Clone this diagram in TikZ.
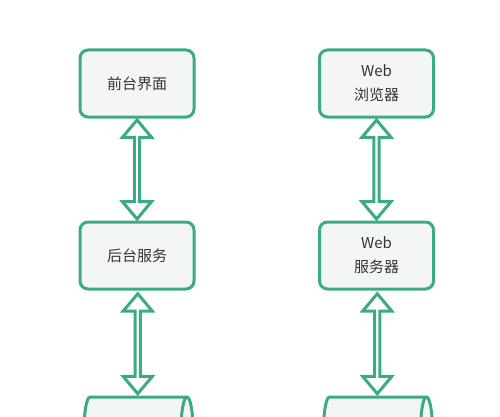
\documentclass[tikz,border=0pt]{standalone}
\usepackage{fontspec}
\setmainfont{Noto Sans CJK SC}
\usetikzlibrary{positioning, calc, shapes.arrows}

\definecolor{tiergreen}{RGB}{60,170,130}
\definecolor{tierfill}{RGB}{244,246,246}
\definecolor{tiertext}{RGB}{51,51,51}

\tikzset{
  tier/.style={draw=tiergreen, fill=tierfill, line width=3pt, rounded corners=8pt,
    minimum width=114pt, minimum height=67pt, inner sep=0pt, align=center,
    text=tiertext, font=\fontsize{15}{24}\selectfont},
  store/.style={rectangle, minimum width=109pt, minimum height=67pt, inner sep=0pt,
    outer sep=0pt, xshift=1.5pt},
  drum/.style={draw=tiergreen, fill=tierfill, line width=3pt, line join=round},
  link/.style={double arrow, draw=tiergreen, fill=white, line width=3pt, rotate=90,
    inner sep=0pt, minimum width=29pt, double arrow head extend=7pt,
    double arrow tip angle=80}
}

% horizontal drum outline round a store node
\newcommand{\storedrum}[1]{
  \draw[drum] ([xshift=6pt]#1.north west) -- ([xshift=-6pt]#1.north east)
    arc[start angle=90, end angle=-90, x radius=6pt, y radius=33.5pt]
    -- ([xshift=6pt]#1.south west)
    arc[start angle=270, end angle=90, x radius=6pt, y radius=33.5pt] -- cycle;
  \draw[drum, fill=none] ([xshift=-6pt]#1.north east)
    arc[start angle=90, end angle=270, x radius=6pt, y radius=33.5pt];
}

\begin{document}
\begin{tikzpicture}[x=1pt, y=1pt]
  \useasboundingbox (0,0) rectangle (500,416);
  \clip (0,0) rectangle (500,416);

  % Left column
  \node[tier] (front) at (137,332.5) {前台界面};
  \node[tier, below=102pt of front] (back) {后台服务};
  \node[store, below=106.5pt of back] (db) {};
  \storedrum{db}

  % Right column
  \node[tier] (browser) at (376.5,332.5) {Web\\浏览器};
  \node[tier, below=102pt of browser] (server) {Web\\服务器};
  \node[store, below=106.5pt of server] (webdb) {};
  \storedrum{webdb}

  % Links
  \node[link, minimum height=99pt] (l1) at ($(front.south)!0.5!(back.north)$) {};
  \node[link, minimum height=100pt] (l2) at ($(back.south)!0.5!(db.north)$) {};
  \node[link, minimum height=99pt] (r1) at ($(browser.south)!0.5!(server.north)$) {};
  \node[link, minimum height=100pt] (r2) at ($(server.south)!0.5!(webdb.north)$) {};
\end{tikzpicture}
\end{document}
